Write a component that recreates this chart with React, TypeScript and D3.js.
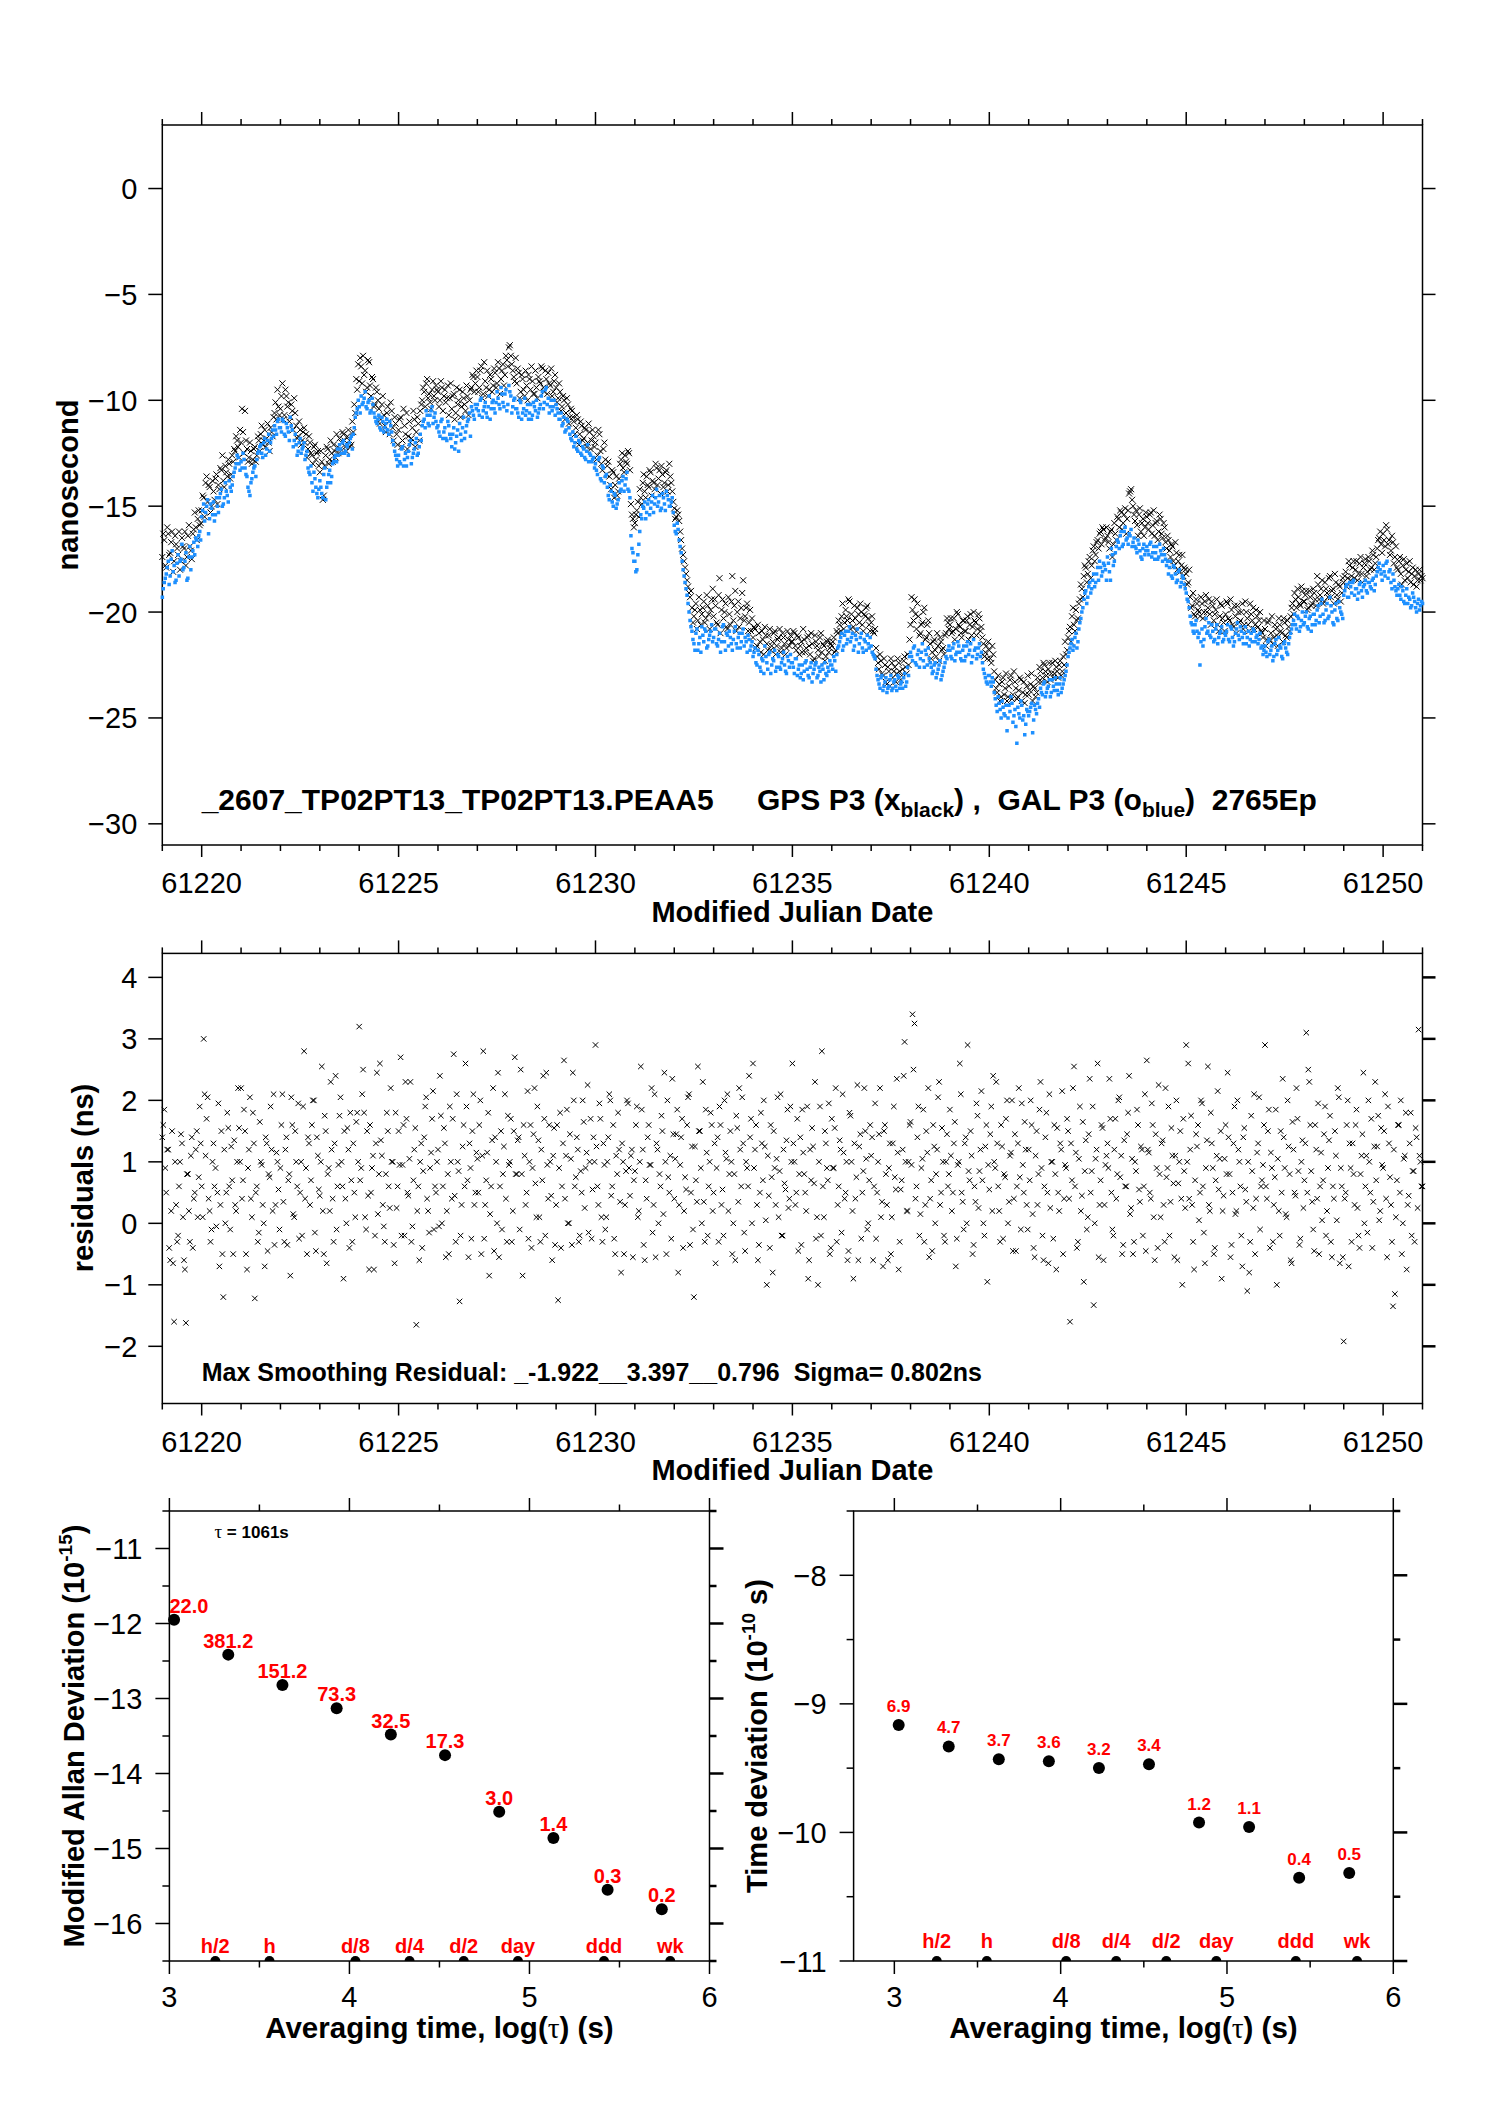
import React from 'react';
import * as d3 from 'd3';

// clock comparison, epochs every 0.05 day from MJD 61219 (second set offset by half a step)
const mjdStart = 61219;
const mjdStep = 0.05;

// GPS P3 (black crosses), ns
const gpsBlack = [
  -17.4,-16.6,-17.9,-16.3,-17.2,-16.2,-17.6,-16.8,-17.3,-18.0,-16.5,-17.0,-17.8,-16.4,-16.9,-17.5,-16.1,-16.0,-15.6,-15.9,
  -15.2,-14.6,-13.9,-14.8,-14.1,-15.0,-14.3,-13.7,-14.9,-14.2,-13.3,-13.8,-13.1,-13.6,-13.0,-13.5,-12.9,-12.4,-11.9,-12.7,
  -12.0,-11.5,-10.5,-12.3,-12.7,-12.4,-12.8,-12.2,-12.6,-11.9,-11.6,-12.1,-11.4,-11.8,-12.0,-11.3,-11.7,-10.6,-10.9,-10.3,
  -10.4,-9.2,-10.7,-9.8,-10.1,-10.8,-10.5,-9.9,-11.2,-11.7,-11.4,-11.9,-11.3,-11.6,-12.3,-12.0,-12.6,-12.2,-12.8,-12.4,
  -13.4,-12.9,-14.5,-12.6,-12.3,-12.8,-12.5,-12.1,-12.7,-12.2,-11.8,-12.0,-11.6,-12.2,-11.7,-11.9,-12.1,-11.5,-10.6,-9.5,
  -9.1,-8.4,-7.9,-8.6,-9.4,-8.2,-9.8,-9.0,-10.2,-9.6,-10.4,-10.9,-9.8,-11.2,-10.6,-11.0,-10.1,-11.3,-10.8,-11.6,
  -11.4,-10.8,-11.9,-11.2,-10.6,-11.7,-12.0,-11.3,-10.9,-11.5,-11.1,-10.5,-10.0,-9.6,-9.2,-9.9,-10.1,-9.5,-9.8,-9.3,
  -9.6,-10.0,-9.4,-9.8,-10.1,-9.3,-9.9,-10.4,-9.7,-10.6,-10.2,-9.5,-10.3,-9.9,-10.5,-9.8,-10.0,-9.4,-8.9,-9.2,
  -8.9,-9.4,-8.4,-9.7,-9.1,-8.6,-9.5,-9.0,-9.3,-8.7,-9.2,-8.5,-9.0,-8.3,-8.8,-8.1,-7.5,-7.9,-8.6,-9.1,
  -9.2,-8.7,-9.6,-9.0,-9.8,-9.3,-8.8,-9.5,-9.1,-9.7,-9.4,-8.9,-9.2,-8.5,-9.6,-9.0,-8.7,-9.3,-9.8,-9.1,
  -9.4,-9.9,-9.6,-10.3,-10.0,-10.6,-10.2,-10.8,-10.5,-11.0,-11.3,-10.9,-11.6,-11.2,-11.8,-11.4,-12.0,-11.5,-11.9,-11.7,
  -12.0,-12.6,-11.6,-13.0,-12.3,-12.8,-13.1,-13.6,-14.2,-13.4,-14.0,-14.5,-13.7,-12.8,-13.2,-12.6,-13.0,-12.5,-14.9,-15.6,
  -15.8,-15.2,-15.5,-14.6,-13.9,-14.3,-13.6,-14.1,-13.4,-13.8,-14.2,-13.2,-13.7,-14.4,-13.5,-13.9,-13.3,-14.0,-13.6,-14.3,
  -15.1,-15.5,-15.4,-16.2,-17.0,-17.6,-18.2,-18.8,-19.3,-19.8,-20.2,-19.6,-20.4,-19.9,-20.1,-19.5,-20.3,-19.7,-20.8,-19.4,
  -20.2,-19.7,-20.6,-18.4,-19.9,-20.3,-19.6,-20.8,-20.1,-19.5,-20.4,-19.0,-20.0,-20.7,-19.8,-18.5,-20.2,-19.6,-20.5,-20.9,
  -21.2,-20.8,-21.6,-21.0,-21.9,-21.3,-20.7,-21.5,-21.1,-21.8,-21.4,-20.9,-21.6,-21.2,-21.9,-21.0,-21.5,-21.7,-21.3,-21.1,
  -21.4,-21.0,-21.8,-21.2,-21.6,-21.9,-21.3,-21.7,-21.1,-22.0,-21.5,-22.2,-21.4,-21.8,-21.2,-21.9,-21.6,-22.1,-21.3,-21.7,
  -21.6,-21.2,-21.8,-21.0,-20.6,-20.2,-20.8,-19.9,-20.4,-19.5,-20.1,-20.7,-20.3,-19.8,-20.5,-20.0,-20.9,-20.2,-19.7,-20.6,
  -20.5,-20.9,-20.8,-22.1,-22.7,-22.3,-23.0,-22.5,-23.4,-22.8,-22.2,-23.1,-22.6,-22.9,-22.4,-23.2,-22.7,-22.1,-22.9,-22.5,
  -20.6,-19.9,-19.4,-20.8,-20.2,-21.0,-20.5,-19.8,-21.2,-20.4,-21.5,-21.9,-21.3,-22.1,-21.6,-21.2,-21.8,-22.0,-21.0,-20.5,
  -20.6,-21.0,-20.3,-20.8,-20.1,-20.7,-21.2,-20.4,-20.9,-20.2,-20.6,-21.1,-20.0,-20.5,-20.8,-20.3,-20.7,-21.5,-21.9,-22.2,
  -21.8,-22.4,-22.0,-23.2,-23.8,-23.4,-24.0,-23.1,-23.6,-24.2,-23.5,-23.0,-23.9,-23.3,-24.1,-23.7,-23.2,-23.8,-24.3,-23.5,
  -23.9,-23.4,-24.2,-23.6,-23.8,-23.3,-22.8,-23.1,-22.5,-23.0,-22.7,-23.2,-22.4,-22.9,-22.6,-23.1,-22.3,-22.8,-22.5,-22.0,
  -21.2,-20.7,-20.2,-20.6,-19.9,-20.3,-19.4,-18.9,-18.3,-17.9,-18.2,-17.4,-17.8,-16.9,-17.3,-16.6,-16.3,-16.8,-16.1,-16.5,
  -16.4,-17.0,-16.1,-16.8,-16.3,-15.5,-16.0,-15.3,-15.8,-15.1,-15.6,-14.4,-14.2,-15.0,-15.7,-15.9,-15.4,-16.2,-15.6,-16.0,
  -15.5,-16.1,-15.3,-15.9,-16.4,-15.7,-16.2,-15.6,-16.5,-16.0,-17.0,-16.6,-17.4,-16.9,-17.8,-17.2,-17.6,-18.1,-17.3,-17.9,
  -18.2,-18.6,-19.3,-19.7,-20.1,-19.4,-19.9,-20.2,-19.6,-20.0,-19.2,-19.8,-20.1,-19.5,-20.4,-19.9,-20.6,-20.2,-19.7,-20.5,
  -20.1,-19.6,-20.4,-19.9,-20.7,-20.2,-19.7,-20.5,-20.0,-20.8,-19.5,-20.3,-20.9,-20.1,-19.8,-20.6,-20.2,-20.4,-20.9,-21.2,
  -20.8,-21.3,-20.4,-21.0,-21.5,-20.6,-21.1,-20.3,-20.9,-21.4,-20.5,-21.2,-20.7,-20.2,-19.6,-19.1,-19.8,-19.3,-19.7,-19.0,
  -19.5,-19.0,-19.8,-19.3,-19.6,-19.1,-19.7,-18.7,-19.2,-18.5,-19.5,-18.9,-19.3,-18.3,-19.0,-19.6,-18.6,-19.4,-18.8,-19.1,
  -18.6,-18.1,-18.4,-17.8,-18.3,-17.6,-18.0,-18.5,-17.7,-18.2,-17.9,-17.5,-18.1,-17.6,-17.9,-17.3,-17.7,-17.0,-16.5,-16.8,
  -16.3,-16.9,-16.1,-16.6,-17.1,-16.7,-17.4,-17.9,-17.6,-18.2,-17.8,-18.5,-17.7,-18.1,-18.6,-17.9,-18.3,-18.8,-18.2,-18.5,
  -18.4,
];
const gpsBlackHalf = [
  -16.3,-17.8,-16.0,-17.3,-16.7,-18.1,-16.4,-17.0,-16.2,-17.6,-16.9,-16.2,-17.4,-15.9,-17.1,-16.3,-15.3,-16.6,-15.2,-15.8,
  -14.5,-15.5,-13.6,-14.0,-15.3,-13.8,-14.7,-13.5,-14.0,-13.2,-12.6,-14.1,-13.4,-12.8,-13.7,-12.6,-12.3,-11.7,-12.2,-11.4,
  -10.4,-12.5,-11.9,-12.9,-12.0,-13.0,-12.3,-12.9,-11.7,-12.4,-11.2,-11.9,-12.2,-11.1,-12.4,-11.5,-10.8,-10.1,-9.5,-10.7,
  -9.8,-10.9,-9.5,-10.3,-11.0,-10.2,-11.4,-10.6,-11.8,-11.0,-12.1,-11.5,-12.0,-12.7,-11.7,-12.5,-13.0,-12.1,-12.5,-13.1,
  -12.4,-14.7,-13.1,-12.2,-13.0,-11.9,-12.9,-12.4,-11.6,-12.5,-12.3,-11.5,-11.9,-12.4,-11.4,-12.2,-11.0,-10.2,-9.0,-8.3,
  -8.0,-9.2,-8.8,-9.6,-8.1,-9.3,-8.9,-10.3,-9.4,-10.0,-11.1,-10.2,-10.7,-11.5,-10.3,-11.6,-10.5,-11.9,-11.1,-12.1,
  -10.9,-12.2,-10.4,-11.6,-12.3,-11.0,-11.8,-10.5,-12.2,-10.8,-11.9,-10.2,-9.4,-10.3,-9.0,-9.7,-10.4,-9.1,-10.0,-9.5,
  -10.3,-9.1,-10.5,-9.5,-9.9,-10.7,-9.2,-9.8,-10.9,-9.4,-10.0,-10.8,-9.6,-10.2,-9.3,-10.7,-9.5,-8.8,-9.6,-8.6,
  -9.6,-8.6,-9.9,-8.2,-9.4,-9.8,-8.8,-9.6,-8.5,-9.4,-8.2,-9.7,-8.6,-9.3,-7.9,-8.4,-7.4,-8.3,-8.9,-8.0,
  -8.5,-9.9,-8.8,-9.5,-8.6,-10.0,-9.0,-8.4,-9.7,-8.6,-9.9,-9.1,-8.4,-9.4,-8.6,-9.7,-9.2,-8.5,-9.6,-8.8,
  -10.1,-9.2,-10.5,-9.8,-10.9,-9.9,-11.1,-10.4,-10.8,-11.6,-10.7,-12.1,-11.0,-11.9,-11.3,-12.2,-11.1,-12.3,-11.4,-12.2,
  -12.8,-11.4,-12.4,-13.3,-12.0,-13.5,-12.9,-14.0,-13.3,-14.6,-13.6,-14.3,-13.0,-12.5,-13.4,-12.9,-12.4,-13.3,-15.4,-16.0,
  -15.4,-14.8,-14.2,-14.9,-13.5,-14.6,-14.0,-13.3,-14.5,-13.9,-13.0,-14.0,-13.3,-13.1,-14.1,-13.4,-14.3,-13.0,-13.9,-14.8,
  -15.6,-15.2,-15.7,-16.6,-17.3,-17.9,-18.5,-19.1,-19.0,-20.5,-19.9,-20.8,-19.3,-20.6,-19.8,-20.5,-19.2,-20.1,-19.9,-18.9,
  -19.4,-20.5,-19.2,-21.0,-19.4,-20.0,-20.7,-19.3,-20.6,-18.3,-19.7,-20.9,-19.5,-20.3,-19.1,-20.4,-19.8,-20.9,-19.9,-20.3,
  -20.7,-21.7,-20.6,-21.4,-20.9,-22.0,-21.1,-21.8,-20.8,-21.6,-21.0,-22.0,-21.3,-20.8,-21.7,-21.2,-22.0,-20.9,-21.6,-21.4,
  -20.9,-21.6,-21.1,-22.0,-21.4,-20.8,-21.9,-21.2,-21.6,-21.0,-22.3,-21.1,-21.6,-22.1,-21.0,-21.5,-22.3,-21.4,-21.9,-21.5,
  -21.4,-21.9,-20.9,-20.4,-20.9,-19.6,-20.5,-20.2,-19.4,-20.8,-20.4,-19.7,-20.9,-20.1,-19.6,-20.6,-20.1,-19.8,-20.3,-20.9,
  -20.2,-21.0,-21.7,-22.4,-22.0,-22.9,-22.2,-23.3,-22.6,-23.5,-22.4,-22.8,-23.3,-22.2,-22.8,-23.0,-22.3,-22.6,-22.0,-21.3,
  -19.3,-20.4,-20.1,-19.6,-21.1,-20.6,-20.0,-21.3,-20.6,-21.0,-22.2,-21.4,-21.8,-21.0,-22.3,-21.4,-21.7,-21.1,-20.3,-20.8,
  -20.3,-20.9,-21.3,-20.0,-20.6,-21.0,-20.4,-20.9,-20.4,-21.3,-20.1,-20.7,-20.4,-21.1,-20.1,-20.9,-21.2,-22.1,-21.6,-21.4,
  -22.2,-21.6,-22.8,-23.6,-23.0,-24.2,-23.3,-23.9,-22.9,-24.0,-23.2,-24.1,-22.8,-23.6,-24.0,-23.1,-24.2,-23.3,-23.9,-23.0,
  -23.7,-22.9,-23.5,-24.0,-23.1,-22.6,-23.3,-22.4,-22.8,-23.3,-22.4,-22.9,-23.1,-22.3,-22.8,-22.5,-23.0,-22.1,-21.4,-21.8,
  -20.9,-21.4,-19.8,-20.9,-20.4,-19.6,-18.7,-19.3,-17.8,-18.6,-17.6,-18.4,-17.1,-17.6,-16.7,-17.0,-16.2,-16.0,-16.6,-16.0,
  -16.7,-16.2,-17.4,-15.8,-16.6,-15.6,-15.2,-16.1,-15.4,-16.3,-15.2,-14.3,-14.7,-15.4,-15.2,-16.4,-15.1,-15.8,-16.4,-15.3,
  -15.8,-15.4,-16.3,-15.2,-15.8,-16.6,-15.4,-16.3,-15.8,-16.7,-16.4,-17.1,-16.8,-17.6,-16.7,-18.0,-17.3,-17.8,-18.3,-18.0,
  -18.7,-18.0,-19.8,-19.1,-20.2,-19.6,-20.0,-19.3,-20.3,-19.5,-20.0,-19.4,-20.6,-19.7,-20.1,-19.4,-20.9,-19.6,-20.3,-20.9,
  -19.5,-20.3,-19.4,-20.6,-19.7,-21.0,-20.0,-20.4,-19.6,-20.6,-20.0,-20.6,-19.6,-20.4,-20.8,-19.9,-20.7,-20.0,-21.0,-20.4,
  -21.6,-20.5,-21.3,-20.2,-21.2,-20.8,-21.6,-20.6,-21.0,-20.3,-21.1,-20.4,-20.9,-19.8,-20.1,-19.4,-18.9,-19.6,-18.8,-19.5,
  -19.2,-19.9,-19.0,-19.7,-18.9,-19.4,-18.3,-19.4,-18.9,-19.6,-18.6,-19.1,-18.4,-19.3,-18.9,-18.2,-19.2,-18.7,-19.5,-18.4,
  -18.3,-18.8,-17.6,-18.5,-17.9,-18.4,-17.6,-18.2,-17.4,-18.6,-17.7,-18.3,-17.4,-18.0,-17.1,-18.0,-17.4,-16.6,-16.2,-17.2,
  -16.6,-15.9,-16.8,-17.3,-16.4,-17.7,-16.9,-18.0,-17.4,-18.7,-17.5,-18.0,-18.4,-17.6,-18.2,-18.7,-18.0,-18.5,-18.0,-18.3,
];

// GAL P3 (blue dots), ns
const galBlue = [
  -19.3,-18.6,-18.2,-17.6,-18.3,-17.1,-17.8,-18.5,-17.3,-17.6,-16.8,-17.9,-17.2,-18.4,-16.9,-17.4,-16.7,-16.5,-16.9,-16.2,
  -15.5,-14.9,-15.3,-14.7,-15.6,-15.1,-14.8,-15.4,-15.0,-14.6,-14.2,-14.9,-13.9,-14.5,-13.8,-14.3,-13.6,-13.2,-12.6,-13.0,
  -12.9,-12.5,-13.2,-13.6,-14.3,-13.9,-13.4,-13.1,-12.8,-12.4,-12.1,-12.7,-11.8,-12.3,-11.6,-12.0,-11.4,-11.2,-11.6,-10.9,
  -11.3,-10.9,-11.6,-11.1,-11.5,-10.8,-11.4,-11.9,-12.1,-12.4,-11.8,-12.3,-12.0,-12.6,-13.2,-13.5,-13.9,-13.4,-14.1,-14.6,
  -13.8,-14.4,-13.5,-14.7,-13.9,-13.3,-13.6,-12.9,-12.6,-12.3,-12.1,-12.5,-11.9,-12.4,-12.2,-12.0,-11.7,-11.6,-10.8,-10.4,
  -10.3,-9.8,-10.1,-9.6,-10.4,-10.0,-10.5,-10.2,-10.8,-11.1,-10.7,-11.4,-11.0,-11.3,-10.9,-11.6,-11.2,-11.9,-12.4,-12.8,
  -12.6,-13.0,-12.2,-12.8,-13.1,-12.4,-11.9,-12.7,-12.3,-11.8,-12.5,-11.6,-11.2,-10.9,-10.5,-11.1,-10.7,-10.3,-10.8,-11.0,
  -11.2,-11.7,-10.9,-11.5,-11.8,-11.0,-11.6,-12.2,-11.3,-12.0,-11.4,-11.1,-11.9,-10.8,-11.5,-11.0,-10.6,-10.3,-10.7,-10.2,
  -10.2,-10.7,-9.9,-10.5,-10.1,-10.8,-9.8,-10.4,-10.0,-10.6,-9.6,-10.2,-9.4,-10.1,-9.7,-10.5,-9.3,-9.8,-10.3,-9.9,
  -10.4,-10.8,-10.1,-10.6,-9.9,-10.5,-10.9,-10.2,-10.7,-10.3,-10.0,-10.6,-10.2,-9.6,-10.1,-9.4,-9.9,-10.3,-10.5,-10.0,
  -10.2,-10.6,-10.9,-11.2,-10.8,-11.4,-11.0,-11.6,-11.9,-12.2,-11.7,-12.4,-12.0,-12.6,-12.3,-12.8,-12.1,-12.5,-12.9,-12.7,
  -13.0,-13.5,-12.7,-13.8,-13.2,-13.6,-14.1,-14.7,-14.3,-15.0,-14.5,-14.9,-13.9,-14.2,-13.6,-14.0,-13.4,-14.3,-16.4,-17.2,
  -17.6,-18.0,-16.8,-15.4,-15.0,-14.8,-15.3,-14.7,-15.1,-14.5,-14.9,-14.2,-14.8,-15.2,-14.4,-14.9,-14.3,-14.7,-15.0,-14.6,
  -15.9,-16.3,-16.1,-16.9,-17.6,-18.3,-18.9,-19.6,-20.4,-20.9,-21.5,-21.0,-21.8,-21.2,-20.7,-21.4,-20.9,-21.6,-21.1,-20.6,
  -21.2,-20.8,-21.6,-21.0,-21.4,-20.6,-21.8,-21.1,-20.9,-21.5,-21.3,-20.7,-21.7,-21.0,-21.4,-20.8,-21.2,-21.9,-21.3,-21.6,
  -22.1,-21.7,-22.5,-22.0,-22.8,-22.3,-21.6,-22.4,-22.0,-22.9,-22.2,-21.8,-22.6,-22.1,-22.7,-22.2,-22.5,-22.9,-22.3,-22.0,
  -22.4,-22.9,-22.2,-22.7,-23.1,-22.5,-22.8,-22.3,-23.0,-22.6,-23.3,-22.7,-22.4,-23.0,-22.8,-22.5,-23.2,-22.9,-22.6,-22.3,
  -22.5,-22.1,-22.8,-21.7,-21.4,-21.0,-21.6,-20.9,-21.3,-20.7,-21.2,-21.8,-21.1,-20.8,-21.5,-21.0,-21.9,-21.4,-21.1,-21.7,
  -21.6,-22.0,-22.2,-23.0,-23.4,-23.1,-23.7,-23.3,-23.8,-23.5,-23.0,-23.6,-23.2,-23.7,-23.1,-23.4,-23.6,-22.9,-23.3,-23.0,
  -21.9,-22.3,-21.6,-22.5,-21.8,-22.2,-21.5,-22.6,-22.0,-21.7,-22.4,-22.9,-22.5,-23.1,-22.7,-22.3,-23.0,-22.6,-22.1,-21.8,
  -21.8,-22.2,-21.5,-22.0,-21.4,-21.9,-22.3,-21.6,-22.1,-21.4,-21.8,-22.4,-21.3,-21.7,-22.0,-21.5,-21.9,-22.7,-23.1,-23.4,
  -23.0,-23.5,-23.3,-24.1,-24.7,-24.3,-25.0,-24.5,-24.9,-25.6,-24.4,-24.0,-25.2,-24.6,-26.2,-24.8,-24.2,-25.1,-25.8,-24.6,
  -24.9,-24.5,-25.7,-24.4,-24.8,-24.1,-23.6,-23.9,-23.3,-23.8,-23.5,-24.0,-23.2,-23.7,-23.4,-23.9,-23.1,-23.6,-23.2,-22.8,
  -22.1,-21.7,-21.3,-21.6,-21.0,-21.4,-20.5,-20.0,-19.4,-19.0,-19.3,-18.6,-18.9,-18.2,-18.6,-17.9,-17.6,-18.3,-17.7,-18.0,
  -17.4,-18.1,-17.0,-17.8,-17.2,-16.6,-17.0,-16.2,-16.8,-16.0,-16.5,-16.3,-16.1,-16.7,-16.9,-17.2,-16.8,-17.4,-17.0,-17.3,
  -16.9,-17.3,-16.7,-17.2,-17.5,-16.9,-17.4,-17.1,-17.6,-17.3,-17.8,-18.2,-17.6,-18.4,-17.9,-18.6,-18.1,-18.8,-18.3,-18.7,
  -19.1,-19.5,-20.2,-20.6,-21.0,-20.4,-21.2,-22.5,-20.8,-21.3,-20.3,-20.9,-21.1,-20.6,-21.4,-20.8,-21.5,-21.0,-20.7,-21.3,
  -21.1,-20.6,-21.4,-20.8,-21.6,-21.0,-20.5,-21.3,-20.9,-21.5,-20.7,-21.2,-21.6,-21.0,-20.8,-21.4,-21.1,-21.3,-21.7,-22.0,
  -21.6,-22.1,-21.3,-21.8,-22.3,-21.5,-22.0,-21.2,-21.7,-22.2,-21.4,-21.9,-21.5,-21.0,-20.6,-20.1,-20.8,-20.3,-20.7,-20.0,
  -20.5,-20.0,-20.8,-20.2,-20.6,-20.1,-20.4,-19.7,-20.2,-19.4,-20.5,-19.9,-20.3,-19.3,-20.0,-20.6,-19.6,-20.4,-19.8,-20.1,
  -19.2,-18.8,-19.3,-18.6,-19.1,-18.5,-18.9,-19.4,-18.7,-19.0,-18.8,-18.5,-19.1,-18.6,-18.9,-18.4,-18.7,-18.1,-17.7,-18.2,
  -17.8,-18.3,-17.6,-18.1,-18.6,-18.2,-18.8,-19.2,-18.7,-19.4,-19.0,-19.6,-18.9,-19.3,-19.8,-19.1,-19.5,-20.0,-19.4,-19.7,
  -19.6,
];
const galBlueHalf = [
  -18.9,-18.4,-17.9,-18.7,-17.5,-18.1,-18.6,-17.7,-18.3,-17.5,-18.0,-17.6,-18.5,-17.4,-18.0,-17.1,-17.3,-16.6,-16.4,-16.6,
  -15.2,-15.7,-15.0,-16.3,-14.9,-15.4,-15.7,-14.6,-15.3,-14.4,-15.0,-14.6,-14.3,-14.8,-14.1,-14.0,-13.4,-13.0,-12.7,-13.3,
  -13.2,-12.8,-13.5,-14.1,-14.5,-13.7,-13.2,-13.6,-12.5,-12.2,-12.5,-12.0,-12.6,-11.9,-12.4,-11.8,-11.7,-11.4,-11.0,-11.3,
  -11.5,-11.0,-11.7,-11.3,-11.9,-11.2,-12.2,-11.6,-12.6,-12.0,-12.5,-12.2,-12.8,-12.4,-13.4,-13.1,-14.3,-13.7,-14.4,-14.2,
  -14.1,-14.6,-13.2,-14.1,-13.5,-13.9,-13.0,-12.7,-12.9,-12.6,-12.3,-12.0,-12.5,-12.1,-12.6,-11.8,-12.3,-11.3,-10.6,-10.0,
  -10.6,-10.2,-9.9,-10.3,-10.1,-10.6,-9.9,-10.6,-11.0,-10.9,-11.3,-10.8,-11.5,-11.1,-11.4,-11.0,-11.5,-12.1,-12.6,-13.1,
  -12.9,-12.3,-13.1,-12.5,-12.7,-12.1,-13.0,-12.5,-12.0,-12.6,-12.2,-11.9,-11.0,-11.3,-10.7,-11.2,-10.5,-11.1,-10.6,-11.3,
  -11.5,-11.0,-11.8,-11.3,-11.9,-11.2,-11.8,-11.6,-12.3,-11.7,-12.4,-11.6,-11.3,-11.8,-11.2,-10.9,-11.7,-10.5,-10.9,-10.4,
  -10.5,-10.0,-10.8,-10.3,-10.6,-10.3,-10.9,-10.1,-10.4,-10.1,-9.9,-10.4,-9.7,-10.3,-9.5,-10.2,-9.6,-10.6,-10.0,-10.4,
  -10.6,-10.0,-10.9,-10.4,-10.7,-10.2,-10.6,-10.9,-10.1,-10.5,-10.8,-10.4,-9.8,-10.4,-9.5,-10.2,-10.6,-10.0,-10.3,-10.7,
  -10.4,-10.9,-10.6,-11.1,-11.5,-10.9,-11.3,-11.8,-11.5,-12.0,-12.3,-11.9,-12.5,-12.2,-12.7,-12.4,-12.9,-12.6,-12.8,-13.2,
  -13.3,-12.8,-13.7,-13.1,-13.9,-13.5,-14.5,-14.0,-14.8,-14.4,-15.1,-14.7,-14.3,-13.8,-14.3,-13.7,-14.2,-14.6,-17.0,-17.6,
  -18.1,-17.3,-16.2,-15.6,-15.1,-15.6,-14.9,-15.4,-14.8,-15.3,-14.6,-15.0,-14.5,-15.1,-14.6,-15.2,-14.5,-15.0,-14.8,-15.3,
  -16.2,-15.8,-16.6,-17.2,-18.0,-18.6,-19.2,-20.0,-20.7,-21.3,-21.8,-20.8,-21.5,-21.9,-21.1,-20.8,-21.7,-21.3,-20.9,-21.4,
  -20.8,-21.5,-21.3,-21.9,-20.7,-21.4,-21.0,-21.6,-21.2,-21.8,-20.9,-21.5,-21.2,-21.7,-21.0,-21.6,-21.4,-21.1,-21.8,-21.4,
  -21.9,-22.4,-21.8,-22.6,-22.2,-22.9,-22.1,-22.7,-21.9,-22.5,-22.3,-22.8,-22.0,-22.6,-22.4,-21.9,-22.8,-22.1,-22.6,-22.4,
  -22.6,-22.2,-23.0,-22.5,-22.9,-23.2,-22.4,-22.7,-23.1,-22.4,-22.9,-22.5,-23.1,-22.6,-23.3,-22.7,-22.4,-23.0,-22.8,-22.5,
  -22.7,-22.3,-22.0,-21.6,-21.2,-21.8,-21.1,-21.5,-20.9,-21.4,-21.0,-21.6,-21.3,-21.9,-21.2,-21.7,-21.3,-21.8,-21.5,-21.2,
  -21.9,-22.1,-22.7,-23.2,-23.6,-23.0,-23.5,-23.1,-23.6,-23.2,-23.7,-23.3,-23.5,-23.0,-23.6,-23.3,-23.1,-23.5,-22.6,-22.1,
  -22.1,-21.7,-22.4,-22.0,-22.6,-21.9,-22.3,-21.8,-22.5,-22.2,-22.6,-22.8,-22.4,-22.9,-22.5,-23.2,-22.8,-22.4,-22.2,-21.6,
  -22.1,-21.7,-22.3,-21.9,-21.6,-22.2,-21.8,-22.3,-21.6,-22.0,-21.5,-22.1,-21.8,-22.2,-21.7,-22.1,-22.4,-22.9,-23.3,-23.0,
  -23.3,-23.1,-23.8,-24.4,-24.0,-24.6,-24.2,-24.8,-24.4,-25.0,-24.7,-24.3,-24.9,-25.4,-24.5,-25.0,-24.4,-24.9,-25.3,-24.7,
  -24.7,-24.3,-25.1,-24.6,-24.3,-24.5,-23.8,-23.4,-24.0,-23.6,-23.2,-23.8,-23.5,-23.1,-23.7,-23.4,-23.8,-23.4,-23.0,-22.5,
  -21.9,-21.5,-21.8,-21.2,-21.7,-20.8,-20.3,-19.8,-19.1,-19.6,-18.8,-19.1,-18.5,-18.8,-18.2,-18.5,-17.9,-18.1,-17.8,-18.5,
  -17.7,-18.5,-17.3,-17.6,-16.9,-16.7,-16.4,-16.9,-16.2,-16.6,-16.8,-16.4,-16.9,-16.5,-17.0,-16.6,-17.1,-17.5,-16.8,-17.1,
  -17.1,-16.8,-17.4,-16.9,-17.2,-17.5,-16.8,-17.3,-17.0,-17.5,-17.6,-17.9,-18.3,-17.8,-18.2,-18.5,-18.0,-18.6,-18.4,-18.9,
  -19.4,-19.8,-20.5,-20.9,-20.6,-20.9,-21.0,-21.4,-21.6,-20.7,-21.0,-20.5,-21.2,-20.9,-21.3,-20.6,-21.2,-20.9,-21.4,-21.0,
  -20.9,-21.3,-20.7,-21.2,-21.4,-20.8,-21.1,-20.7,-21.2,-21.0,-21.5,-20.9,-21.3,-21.4,-20.9,-21.2,-21.5,-21.0,-21.6,-21.8,
  -21.9,-21.4,-22.0,-21.6,-22.1,-21.3,-21.8,-21.6,-22.1,-21.5,-21.7,-22.0,-21.2,-20.8,-20.4,-20.6,-20.2,-20.9,-20.4,-20.6,
  -20.2,-20.7,-20.3,-20.9,-20.1,-20.6,-19.9,-20.5,-19.6,-20.1,-20.4,-19.6,-20.2,-19.7,-20.5,-19.9,-20.3,-19.5,-20.0,-20.3,
  -19.0,-18.7,-19.3,-18.8,-18.6,-19.2,-18.9,-19.1,-18.6,-19.3,-18.7,-19.0,-18.6,-18.8,-18.5,-19.0,-18.3,-17.9,-18.0,-18.5,
  -18.1,-17.7,-18.4,-18.0,-18.9,-18.5,-19.0,-18.9,-19.2,-18.8,-19.5,-19.2,-19.6,-19.4,-19.7,-19.3,-19.8,-19.6,-19.9,-19.5,
];

// smoothing residuals, ns
const residuals = [
  1.4,1.85,0.5,1.2,-0.6,1.5,-1.6,0.3,-0.2,1.0,1.3,-0.6,-1.62,0.8,-0.3,1.4,0.4,1.2,0.1,1.9,
  0.6,3.0,1.1,2.05,0.2,-0.1,1.3,0.9,0.5,-0.7,1.5,-1.2,0.0,1.8,0.6,1.25,-0.5,0.3,1.0,1.55,
  2.2,0.7,1.5,-0.75,1.2,0.4,1.8,-1.22,0.6,-0.15,1.0,0.3,-0.7,1.3,0.8,1.9,0.2,-0.35,1.15,0.55,
  0.9,2.1,-0.3,1.4,0.7,-0.85,1.6,0.1,1.0,1.95,0.5,-0.2,2.8,0.9,1.4,0.3,1.6,2.0,-0.45,1.1,
  0.45,2.55,-0.5,1.5,0.8,0.2,1.2,-0.3,2.4,0.6,1.75,1.0,-0.9,0.4,1.55,-0.4,0.7,1.3,0.1,1.8,
  3.2,0.9,2.5,0.1,1.5,-0.75,0.5,1.1,-0.2,2.45,0.8,1.35,0.3,-0.3,1.8,0.6,2.2,1.0,-0.65,0.25,
  1.5,2.7,0.95,-0.2,1.7,0.45,2.3,-0.05,1.2,-1.65,0.6,1.0,-0.4,1.4,2.05,0.2,0.9,1.7,-0.1,0.5,
  1.2,2.4,0.0,1.55,-0.55,0.8,1.9,0.4,2.75,-0.3,1.0,-1.27,0.3,1.6,2.6,0.7,1.3,-0.25,2.1,0.5,
  1.05,1.6,-0.5,2.8,0.3,1.15,-0.85,0.6,2.2,1.4,0.0,-0.55,1.5,0.8,2.1,-0.3,0.95,1.7,0.2,2.7,
  0.8,1.4,2.5,-0.85,1.1,0.5,-0.25,1.6,0.9,2.2,0.1,1.35,-0.3,0.7,1.7,2.45,0.4,1.0,-0.6,1.55,
  0.3,-1.25,1.8,0.6,2.65,1.1,0.0,1.45,-0.35,2.0,0.75,1.2,-0.2,0.5,1.65,0.9,2.25,1.0,-0.25,1.4,
  2.9,0.6,1.95,0.1,1.3,-0.1,1.0,2.1,0.45,1.6,-0.5,0.8,1.2,-0.8,1.0,0.3,2.0,0.9,1.1,-0.55,
  0.85,1.9,0.2,2.55,1.2,-0.6,0.4,1.6,0.95,-0.15,2.1,1.3,0.0,0.6,1.5,2.45,-0.5,0.75,1.1,2.35,
  0.4,1.45,-0.8,0.95,1.7,0.2,0.55,2.05,-0.35,1.25,-1.2,0.7,2.55,1.5,0.0,0.35,1.85,-0.2,1.0,1.6,
  0.5,-0.65,1.4,1.9,0.3,-0.2,1.15,2.1,0.8,1.0,0.0,-0.6,1.55,2.2,0.6,1.3,-0.45,0.9,2.4,1.7,
  2.6,1.2,0.3,-0.35,1.8,0.7,1.25,-1.0,0.45,1.6,-0.8,0.9,1.05,0.1,2.1,-0.2,0.65,1.35,0.25,1.9,
  2.6,1.0,0.5,-0.45,1.4,1.85,0.8,0.2,-0.9,1.2,1.55,0.65,-0.25,-1.0,1.9,2.8,0.1,1.3,0.7,-0.5,
  1.7,0.9,2.2,0.3,1.35,-0.15,1.15,0.5,-0.6,1.8,1.0,-0.9,0.4,2.25,1.25,-0.25,0.85,1.5,-0.1,0.7,
  1.1,-0.6,1.95,0.5,1.45,0.1,-0.7,1.6,0.3,0.9,-0.5,1.3,0.75,2.35,-0.75,0.55,1.2,2.95,0.2,1.0,
  1.65,3.4,3.25,0.6,1.9,0.15,1.05,-0.3,1.5,2.2,0.4,-0.45,1.25,0.8,2.05,0.3,1.55,-0.2,1.0,0.6,
  1.85,0.2,1.3,-0.7,0.95,2.6,0.5,-0.1,1.4,2.9,0.7,1.1,-0.35,0.35,1.75,0.85,2.15,0.0,1.25,-0.95,
  0.55,1.9,2.4,0.9,1.3,0.2,1.6,-0.25,0.75,2.0,0.35,1.15,-0.45,1.45,0.6,2.2,-0.1,0.95,1.65,0.3,
  1.2,2.0,0.15,-0.55,1.5,0.8,2.3,-0.2,0.6,1.8,-0.65,0.25,1.0,1.6,-0.75,0.5,1.3,2.15,0.4,0.9,
  1.5,-1.6,0.7,2.55,1.15,-0.3,1.9,0.45,-0.95,1.35,0.1,2.35,0.85,-1.33,1.05,2.6,0.3,1.6,-0.6,0.95,
  1.3,2.35,0.5,-0.2,1.7,0.8,2.05,1.1,-0.35,0.6,1.45,2.4,0.25,-0.5,1.0,1.85,0.55,1.25,-0.2,2.1,
  2.65,1.15,0.4,1.6,-0.6,0.9,2.25,0.1,1.35,-0.3,0.75,1.9,0.35,1.1,-0.55,2.0,0.65,1.5,-1.0,0.85,
  2.9,2.6,1.2,0.3,-0.75,1.45,1.6,0.5,1.95,-0.15,0.9,2.55,0.2,1.3,-0.5,0.7,2.15,1.05,-0.9,0.45,
  1.6,2.45,0.8,-0.35,1.3,0.15,2.0,1.0,-0.2,1.4,0.55,-1.1,-0.8,1.75,0.25,-0.5,1.15,2.05,0.6,0.95,
  2.9,0.4,1.85,1.15,-0.3,0.75,-1.0,0.2,1.5,2.35,0.9,0.1,1.25,-0.6,1.65,0.5,2.2,0.85,-0.25,1.35,
  0.7,3.1,2.5,1.6,0.35,-0.45,1.2,1.95,0.6,0.05,1.45,-0.2,0.9,1.75,-0.55,0.4,1.1,2.2,-0.65,0.6,
  -1.92,0.5,2.0,1.3,-0.3,0.8,1.6,0.25,-0.4,1.1,2.45,0.6,-0.15,1.0,1.7,0.35,2.3,1.25,0.05,1.55,
  0.9,2.1,-0.55,1.3,0.3,-1.35,-1.15,0.7,1.6,2.0,0.0,1.1,-0.75,0.45,1.8,0.85,-0.3,1.4,3.15,1.0,
  0.6,
];
const residualsHalf = [
  1.6,0.9,1.2,-0.4,0.2,-0.65,1.0,-0.3,0.6,1.45,0.1,-0.75,0.8,0.2,1.1,-0.4,0.5,1.5,0.75,1.3,
  0.1,2.1,1.7,0.4,-0.3,1.0,0.6,-0.05,1.95,0.3,-0.5,1.2,0.5,1.55,-0.1,0.7,1.35,0.2,2.2,1.0,
  0.4,1.85,-0.5,0.9,2.05,0.1,1.3,0.5,-0.3,1.65,0.95,0.0,1.4,-0.45,0.75,1.2,2.1,0.3,1.0,-0.1,
  1.6,0.35,1.2,-0.35,0.8,2.05,0.15,1.5,0.6,-0.25,1.0,1.9,0.4,-0.5,1.3,0.7,2.0,-0.15,1.4,0.55,
  1.0,0.2,1.75,-0.65,0.9,2.3,0.4,1.3,-0.1,0.95,2.05,0.6,1.5,0.0,1.2,1.8,-0.3,0.5,1.65,1.0,
  0.7,2.1,1.8,-0.1,0.45,1.6,0.9,-0.75,1.3,0.15,2.6,1.1,-0.05,0.8,1.5,0.25,1.0,-0.35,1.8,0.6,
  0.95,-0.2,1.6,2.3,0.5,1.05,-0.3,0.7,1.55,0.2,-0.6,1.3,0.85,1.9,0.4,-0.15,1.15,2.15,0.6,1.0,
  -0.05,1.75,0.6,1.3,0.2,-0.5,1.0,1.7,0.45,2.1,0.85,-0.2,1.25,0.6,1.9,-0.55,0.9,1.5,0.3,1.15,
  0.5,2.0,1.1,-0.25,0.7,1.8,0.15,1.35,-0.45,1.0,2.45,0.6,-0.1,1.25,0.4,1.75,1.0,-0.3,1.5,0.8,
  1.35,-0.1,0.8,1.6,0.3,2.15,1.0,-0.4,1.45,0.65,1.9,0.1,1.2,2.4,-0.2,0.95,1.6,0.45,1.1,-0.35,
  1.6,0.9,-0.4,1.3,0.4,1.85,0.0,1.05,2.45,0.6,1.4,-0.3,0.85,2.0,0.25,1.15,-0.15,1.7,0.55,1.0,
  1.25,0.3,1.7,-0.3,0.95,0.1,1.4,2.0,0.6,-0.25,1.1,1.8,0.35,1.3,-0.5,0.85,1.95,0.45,1.2,0.7,
  1.6,0.1,1.0,1.85,-0.35,0.7,1.4,0.95,2.2,0.3,-0.55,1.2,0.8,1.75,0.15,1.0,2.0,0.5,-0.25,1.45,
  1.05,1.85,0.3,1.4,-0.4,0.75,1.6,2.1,0.5,-0.1,1.25,0.35,1.5,0.9,2.3,-0.3,1.15,0.6,1.8,0.2,
  1.3,0.9,-0.3,1.6,0.55,2.0,1.05,0.2,1.5,-0.5,0.8,1.75,0.35,1.2,2.05,-0.15,1.0,0.6,1.4,0.0,
  0.9,1.6,-0.6,0.5,1.3,2.0,0.05,1.1,-0.4,0.75,1.5,0.3,2.05,0.85,-0.2,1.2,0.55,1.85,0.4,1.0,
  1.3,0.3,1.7,0.8,-0.35,1.15,0.5,1.9,-0.6,0.7,1.25,2.3,0.1,1.0,-0.2,0.6,1.5,0.9,1.95,-0.4,
  0.9,1.55,-0.3,0.6,1.2,2.1,0.4,1.0,-0.45,1.75,0.2,1.3,0.75,-0.6,1.45,0.5,2.2,1.05,0.0,1.6,
  1.4,0.6,-0.25,1.0,2.2,0.35,1.5,0.8,-0.6,1.3,0.1,1.9,0.55,1.15,-0.3,0.7,2.4,1.0,0.2,1.6,
  0.95,2.5,0.4,1.4,-0.2,0.9,1.85,0.3,1.15,-0.55,0.7,1.6,0.0,1.2,2.3,0.5,1.0,-0.3,1.45,0.8,
  1.1,0.5,1.65,-0.25,1.0,2.1,0.35,1.3,0.0,0.85,1.5,-0.5,0.6,1.95,0.25,1.2,0.7,-0.2,1.6,0.95,
  1.45,0.2,1.0,2.3,0.6,-0.3,1.25,0.8,1.7,0.0,1.1,2.0,0.4,-0.45,1.3,0.75,1.95,0.5,1.2,-0.1,
  0.7,1.6,-0.4,1.1,0.3,1.85,0.9,-0.6,1.4,0.5,2.1,1.0,-0.25,0.8,1.55,0.2,1.2,-0.5,0.95,1.7,
  0.4,1.3,2.2,0.6,-0.4,1.05,0.2,1.65,0.85,-0.1,1.45,0.5,1.9,0.0,1.2,-0.55,0.7,1.55,0.3,1.1,
  0.9,1.7,-0.1,1.2,0.4,2.0,0.75,-0.5,1.35,0.6,1.8,0.15,1.05,-0.3,0.85,1.6,0.35,1.2,0.6,-0.45,
  1.2,0.5,1.95,0.1,1.45,-0.4,0.8,1.3,0.3,2.2,0.9,-0.2,1.55,0.65,1.1,-0.6,1.0,0.4,1.7,0.25,
  1.0,0.4,1.75,-0.3,0.7,1.25,0.05,2.0,0.6,-0.65,1.35,0.3,1.8,0.9,-0.4,1.1,0.55,1.5,0.2,1.05,
  0.8,1.4,-0.55,0.5,1.9,0.2,1.2,0.6,-0.7,1.55,0.35,1.0,-0.3,0.85,2.1,0.4,1.3,-0.1,0.7,1.6,
  0.6,1.5,-0.4,0.9,0.3,1.85,1.05,-0.2,0.5,1.4,0.15,2.0,0.8,-0.65,1.2,0.45,1.7,-0.35,1.0,0.25,
  1.3,0.5,2.3,0.85,-0.1,1.6,0.4,-0.5,1.15,0.7,1.9,0.2,1.35,-0.3,0.6,1.5,0.05,2.05,0.9,-0.55,
  0.4,1.6,-0.7,0.9,1.3,0.3,1.85,-0.2,0.8,1.45,0.0,1.1,2.0,0.5,-0.4,1.25,0.7,1.75,0.2,0.95,
  1.5,0.4,1.9,0.75,-0.3,1.2,0.1,1.6,0.5,-0.5,1.05,1.8,0.3,1.3,-0.2,0.85,1.55,0.25,1.1,0.6,
];

// stability: log10(tau) in s
const tauLog = [3.026, 3.327, 3.628, 3.929, 4.230, 4.531, 4.832, 5.133, 5.434, 5.735];
const modAdev = [-11.95, -12.415, -12.82, -13.13, -13.48, -13.755, -14.51, -14.86, -15.55, -15.81];
const modAdevLabels = ['22.0', '381.2', '151.2', '73.3', '32.5', '17.3', '3.0', '1.4', '0.3', '0.2'];
const tdev = [-9.164, -9.331, -9.43, -9.446, -9.498, -9.47, -9.923, -9.957, -10.353, -10.316];
const tdevLabels = ['6.9', '4.7', '3.7', '3.6', '3.2', '3.4', '1.2', '1.1', '0.4', '0.5'];
const spanNames = ['h/2', 'h', 'd/8', 'd/4', 'd/2', 'day', 'ddd', 'wk'];
const spanLog = [3.255, 3.556, 4.033, 4.334, 4.635, 4.936, 5.414, 5.782];

const mjdDays = d3.range(61219, 61252);
const nsTicks = [-30, -25, -20, -15, -10, -5, 0];
const resTicks = [-2, -1, 0, 1, 2, 3, 4];

const FONT = '"Liberation Sans", Arial, Helvetica, sans-serif';
const SERIF = '"Liberation Serif", "DejaVu Serif", serif';
const BLUE = '#1e90ff';
const RED = '#ff0000';

const topBox = { left: 162.3, right: 1422.5, top: 125, bottom: 845 };
const midBox = { left: 162.3, right: 1422.5, top: 953.4, bottom: 1403.5 };
const adevBox = { left: 169.4, right: 709.5, top: 1511, bottom: 1961 };
const tdevBox = { left: 853.6, right: 1393.3, top: 1511, bottom: 1961 };

const fmt = d3.format('d');
const mjdOf = (i: number, half = false) => mjdStart + i * mjdStep + (half ? mjdStep / 2 : 0);

type Box = { left: number; right: number; top: number; bottom: number };

const Line = ({ x1, y1, x2, y2, w = 1.5 }: any) => (
  <line x1={x1} y1={y1} x2={x2} y2={y2} stroke="#000" strokeWidth={w} />
);

function MjdFrame({ box, y, yTicks, rightW }: { box: Box; y: d3.ScaleLinear<number, number>; yTicks: number[]; rightW: number }) {
  const x = d3.scaleLinear().domain([61219, 61251]).range([box.left, box.right]);
  return (
    <g>
      <rect x={box.left} y={box.top} width={box.right - box.left} height={box.bottom - box.top}
        fill="none" stroke="#000" strokeWidth={1.5} />
      {mjdDays.map(d => {
        const major = d % 5 === 0;
        const px = x(d);
        return (
          <g key={d}>
            <Line x1={px} y1={box.top} x2={px} y2={box.top - (major ? 13 : 6)} />
            <Line x1={px} y1={box.bottom} x2={px} y2={box.bottom + (major ? 12 : 6)} />
            {major && (
              <text x={px} y={box.bottom + 48} textAnchor="middle" fontSize={29}>{d}</text>
            )}
          </g>
        );
      })}
      {yTicks.map(v => (
        <g key={v}>
          <Line x1={box.left - 14} y1={y(v)} x2={box.left} y2={y(v)} />
          <Line x1={box.right} y1={y(v)} x2={box.right + 13} y2={y(v)} w={rightW} />
          <text x={box.left - 25} y={y(v) + 10.5} textAnchor="end" fontSize={29}>{fmt(v)}</text>
        </g>
      ))}
    </g>
  );
}

function crossPath(pts: [number, number][], s: number) {
  return pts.map(([px, py]) =>
    `M${(px - s).toFixed(1)},${(py - s).toFixed(1)}L${(px + s).toFixed(1)},${(py + s).toFixed(1)}` +
    `M${(px - s).toFixed(1)},${(py + s).toFixed(1)}L${(px + s).toFixed(1)},${(py - s).toFixed(1)}`).join('');
}

function squarePath(pts: [number, number][], s: number) {
  return pts.map(([px, py]) => `M${(px - s / 2).toFixed(1)},${(py - s / 2).toFixed(1)}h${s}v${s}h${-s}z`).join('');
}

function labelWidth(t: string, size: number) {
  let w = 0;
  for (const c of t) w += c === '.' ? 0.278 : 0.556;
  return w * size;
}

function StabilityPanel({ box, id, xDomain, yDomain, yMajor, yMinor, values, labels,
  labelSize, labelDy, spanDy, yTitle }: any) {
  const x = d3.scaleLinear().domain(xDomain).range([box.left, box.right]);
  const y = d3.scaleLinear().domain(yDomain).range([box.bottom, box.top]);
  const xMajor = [3, 4, 5, 6];
  const xMinor = [3.5, 4.5, 5.5];
  return (
    <g>
      <defs>
        <clipPath id={id}>
          <rect x={box.left} y={box.top} width={box.right - box.left} height={box.bottom - box.top} />
        </clipPath>
      </defs>
      <rect x={box.left} y={box.top} width={box.right - box.left} height={box.bottom - box.top}
        fill="none" stroke="#000" strokeWidth={1.5} />
      {xMajor.map(v => (
        <g key={'xM' + v}>
          <Line x1={x(v)} y1={box.top} x2={x(v)} y2={box.top - 13} />
          <Line x1={x(v)} y1={box.bottom} x2={x(v)} y2={box.bottom + 13} />
          <text x={x(v)} y={box.bottom + 46} textAnchor="middle" fontSize={29}>{v}</text>
        </g>
      ))}
      {xMinor.map(v => (
        <g key={'xm' + v}>
          <Line x1={x(v)} y1={box.top} x2={x(v)} y2={box.top - 6.5} />
          <Line x1={x(v)} y1={box.bottom} x2={x(v)} y2={box.bottom + 6.5} />
        </g>
      ))}
      {yMajor.map((v: number) => (
        <g key={'yM' + v}>
          <Line x1={box.left - 14} y1={y(v)} x2={box.left} y2={y(v)} />
          <Line x1={box.right} y1={y(v)} x2={box.right + 14} y2={y(v)} w={2.5} />
          <text x={box.left - 27} y={y(v) + 10.5} textAnchor="end" fontSize={29}>{fmt(v)}</text>
        </g>
      ))}
      {yMinor.map((v: number) => (
        <g key={'ym' + v}>
          <Line x1={box.left - 7} y1={y(v)} x2={box.left} y2={y(v)} />
          <Line x1={box.right} y1={y(v)} x2={box.right + 7} y2={y(v)} w={2.5} />
        </g>
      ))}
      {tauLog.map((t, i) => {
        const px = x(t);
        const py = y(values[i]);
        const half = labelWidth(labels[i], labelSize) / 2;
        const lx = Math.max(px, box.left + half);
        return (
          <g key={'p' + i}>
            <circle cx={px} cy={py} r={6} fill="#000" />
            <text x={lx} y={py - labelDy} textAnchor="middle" fontSize={labelSize}
              fontWeight="bold" fill={RED}>{labels[i]}</text>
          </g>
        );
      })}
      <g clipPath={`url(#${id})`}>
        {spanLog.map((t, i) => (
          <circle key={'s' + i} cx={x(t)} cy={box.bottom} r={5} fill="#000" />
        ))}
      </g>
      {spanLog.map((t, i) => (
        <text key={'sl' + i} x={x(t)} y={box.bottom - spanDy} textAnchor="middle" fontSize={20}
          fontWeight="bold" fill={RED}>{spanNames[i]}</text>
      ))}
      <text x={(box.left + box.right) / 2} y={2038} textAnchor="middle" fontSize={29.5} fontWeight="bold">
        Averaging time, log(<tspan fontFamily={SERIF} fontWeight="normal">τ</tspan>) (s)
      </text>
      {yTitle}
    </g>
  );
}

export default function App() {
  const xMjd = d3.scaleLinear().domain([61219, 61251]).range([topBox.left, topBox.right]);
  const yNs = d3.scaleLinear().domain([-31, 3]).range([topBox.bottom, topBox.top]);
  const yRes = d3.scaleLinear().domain([-2.93, 4.39]).range([midBox.bottom, midBox.top]);

  const toPts = (vals: number[], y: d3.ScaleLinear<number, number>, half: boolean) =>
    vals.map((v, i) => [xMjd(mjdOf(i, half)), y(v)] as [number, number]);

  const blackPts = [...toPts(gpsBlack, yNs, false), ...toPts(gpsBlackHalf, yNs, true)];
  const bluePts = [...toPts(galBlue, yNs, false), ...toPts(galBlueHalf, yNs, true)];
  const resPts = [...toPts(residuals, yRes, false), ...toPts(residualsHalf, yRes, true)];

  return (
    <svg width={1488} height={2105} viewBox="0 0 1488 2105"
      style={{ position: 'absolute', left: 0, top: 0, background: '#fff' }}
      fontFamily={FONT}>
      <rect width={1488} height={2105} fill="#fff" />

      {/* time series */}
      <MjdFrame box={topBox} y={yNs} yTicks={nsTicks} rightW={1.5} />
      <path d={crossPath(blackPts, 3)} stroke="#000" strokeWidth={1} fill="none" />
      <path d={squarePath(bluePts, 3.5)} fill={BLUE} />
      <text x={201.7} y={810} fontSize={30} fontWeight="bold">_2607_TP02PT13_TP02PT13.PEAA5</text>
      <text x={757} y={810} fontSize={30} fontWeight="bold" style={{ whiteSpace: 'pre' }}>
        GPS P3 (x<tspan fontSize={21} dy={7}>black</tspan><tspan dy={-7}>{') ,  GAL P3 (o'}</tspan>
        <tspan fontSize={21} dy={7}>blue</tspan><tspan dy={-7}>{')  2765Ep'}</tspan>
      </text>
      <text transform="translate(78,485) rotate(-90)" textAnchor="middle" fontSize={29} fontWeight="bold">nanosecond</text>
      <text x={792.4} y={922} textAnchor="middle" fontSize={29} fontWeight="bold">Modified Julian Date</text>

      {/* residuals */}
      <MjdFrame box={midBox} y={yRes} yTicks={resTicks} rightW={2.5} />
      <path d={crossPath(resPts, 2.7)} stroke="#000" strokeWidth={1} fill="none" />
      <text x={201.7} y={1381} fontSize={25} fontWeight="bold" style={{ whiteSpace: 'pre' }}>
        {'Max Smoothing Residual: _-1.922__3.397__0.796  Sigma= 0.802ns'}
      </text>
      <text transform="translate(93,1178) rotate(-90)" textAnchor="middle" fontSize={29} fontWeight="bold">residuals (ns)</text>
      <text x={792.4} y={1480} textAnchor="middle" fontSize={29} fontWeight="bold">Modified Julian Date</text>

      {/* modified Allan deviation */}
      <StabilityPanel box={adevBox} id="clipAdev" xDomain={[3, 6]} yDomain={[-16.5, -10.5]}
        yMajor={[-16, -15, -14, -13, -12, -11]} yMinor={[-16.5, -15.5, -14.5, -13.5, -12.5, -11.5, -10.5]}
        values={modAdev} labels={modAdevLabels} labelSize={20} labelDy={7} spanDy={8}
        yTitle={
          <text transform="translate(84,1736) rotate(-90)" textAnchor="middle" fontSize={29} fontWeight="bold">
            Modified Allan Deviation (10<tspan fontSize={19} dy={-12}>-15</tspan><tspan dy={12}>)</tspan>
          </text>
        } />
      <text x={214.5} y={1538} fontSize={17} fontWeight="bold">
        <tspan fontFamily={SERIF} fontWeight="normal" fontSize={19}>τ</tspan> = 1061s
      </text>

      {/* time deviation */}
      <StabilityPanel box={tdevBox} id="clipTdev" xDomain={[2.755, 6]} yDomain={[-11, -7.5]}
        yMajor={[-11, -10, -9, -8]} yMinor={[-10.5, -9.5, -8.5, -7.5]}
        values={tdev} labels={tdevLabels} labelSize={17} labelDy={13} spanDy={13}
        yTitle={
          <text transform="translate(767,1736) rotate(-90)" textAnchor="middle" fontSize={29} fontWeight="bold">
            Time deviation (10<tspan fontSize={19} dy={-12}>-10</tspan><tspan dy={12}> s)</tspan>
          </text>
        } />
    </svg>
  );
}
